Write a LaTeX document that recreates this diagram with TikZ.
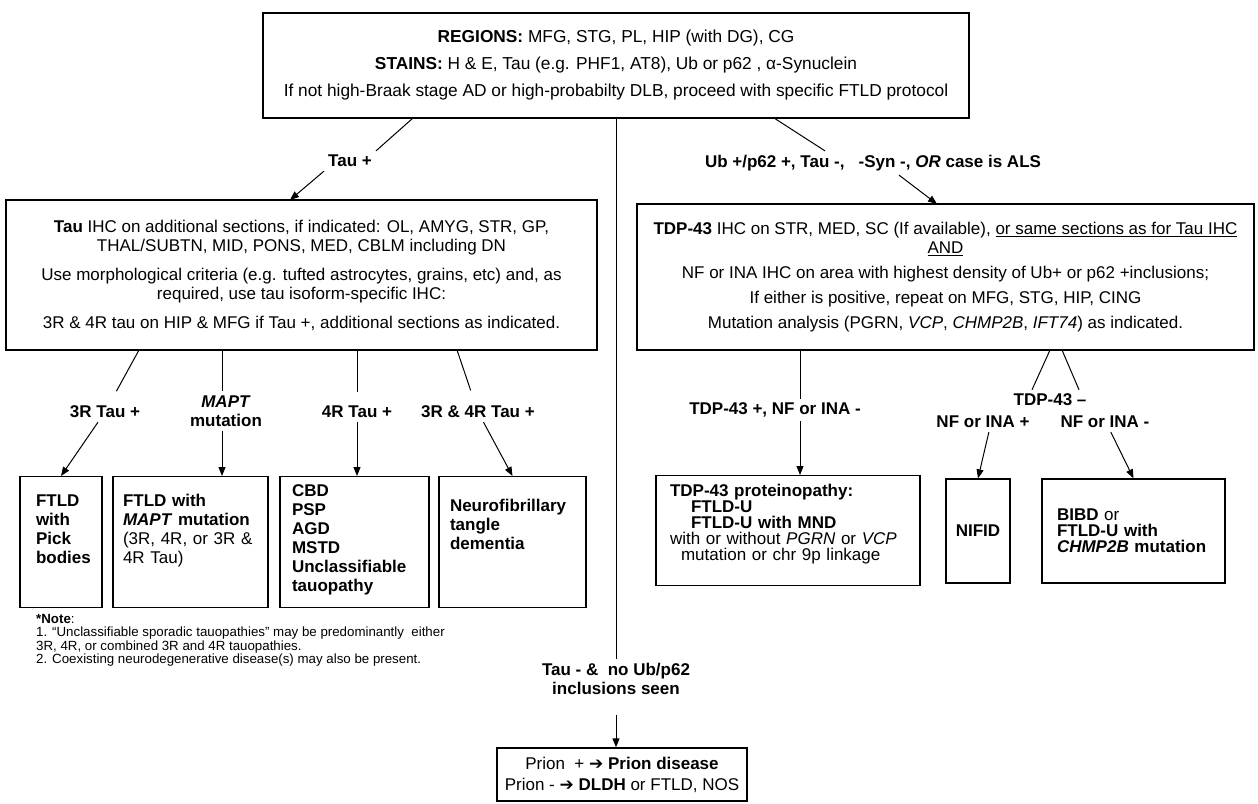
\documentclass[tikz,border=0pt]{standalone}
\usepackage{fontspec}
\setmainfont{Liberation Sans}
\newfontfamily\symfont{DejaVu Sans}
\usetikzlibrary{arrows.meta}
\def\harr{{\symfont\char"2794}}

\begin{document}
\fontsize{17}{19}\selectfont
\begin{tikzpicture}[x=1pt,y=-1pt,
    box/.style={draw,line width=1.3pt,inner sep=0pt},
    lbl/.style={font=\bfseries,inner sep=4pt,align=center},
    ln/.style={line width=1pt},
    arr/.style={line width=1pt,-{Triangle[length=9pt,width=7pt]}}]
\useasboundingbox (0,0) rectangle (1258,803);

\node[box,minimum width=706pt,minimum height=105pt,align=center,font=\fontsize{17.3}{19}\selectfont] (top) at (616,65.5)
  {\textbf{REGIONS:} MFG, STG, PL, HIP (with DG), CG\\[8pt]
   \textbf{STAINS:} H \& E, Tau (e.g. PHF1, AT8), Ub or p62 , α-Synuclein\\[8pt]
   If not high-Braak stage AD or high-probabilty DLB, proceed with specific FTLD protocol};

\node[box,minimum width=591pt,minimum height=150pt,align=center] (tau) at (301.5,275)
  {\textbf{Tau} IHC on additional sections, if indicated: OL, AMYG, STR, GP,\\
   THAL/SUBTN, MID, PONS, MED, CBLM including DN\\[10pt]
   Use morphological criteria (e.g. tufted astrocytes, grains, etc) and, as\\
   required, use tau isoform-specific IHC:\\[10pt]
   3R \& 4R tau on HIP \& MFG if Tau +, additional sections as indicated.};

\node[box,minimum width=617pt,minimum height=146pt,align=center] (rbox) at (945.5,277)
  {\textbf{TDP-43} IHC on STR, MED, SC (If available), \underline{or same sections as for Tau IHC}\\
   \underline{AND}\\[6pt]
   NF or INA IHC on area with highest density of Ub+ or p62 +inclusions;\\[6pt]
   If either is positive, repeat on MFG, STG, HIP, CING\\[6pt]
   Mutation analysis (PGRN, \textit{VCP}, \textit{CHMP2B}, \textit{IFT74}) as indicated.};

\node[lbl] (taup) at (350,161) {Tau +};
\node[lbl] (ubl) at (873,163) {Ub +/p62 +, Tau -,\ \ \ -Syn -, \textit{OR} case is ALS};
\coordinate (t1) at (413,118);
\coordinate (t2) at (290,200);
\coordinate (u1) at (774,118);
\coordinate (u2) at (937,204);
\draw[ln] (t1) -- (taup.north east);
\draw[arr] (taup.south west) -- (t2);
\draw[ln] (u1) -- ([xshift=-48pt]ubl.north);
\draw[arr] ([xshift=26pt]ubl.south) -- (u2);

\node[box,anchor=north,text width=50pt,inner xsep=16pt,text height=30pt,text depth=101pt,align=left,font=\bfseries] (pick) at (61,476)
  {FTLD\\with\\Pick\\bodies};
\node[box,anchor=north,text width=135pt,inner xsep=10pt,text height=30pt,text depth=101pt,align=left,font=\bfseries] (mapt) at (190.5,476)
  {FTLD with\\\textit{MAPT} mutation\\\mdseries (3R, 4R, or 3R \&\\4R Tau)};
\node[box,anchor=north,text width=125pt,inner xsep=12pt,text height=20pt,text depth=111pt,align=left,font=\bfseries] (cbd) at (354.5,476)
  {CBD\\PSP\\AGD\\MSTD\\Unclassifiable\\tauopathy};
\node[box,anchor=north,text width=125pt,inner xsep=11pt,text height=35pt,text depth=96pt,align=left,font=\bfseries] (nft) at (512.5,476)
  {Neurofibrillary\\tangle\\dementia};

\node[lbl] (l3r) at (105,412) {3R Tau +};
\node[lbl] (lmapt) at (226,411) {\textit{MAPT}\\mutation};
\node[lbl] (l4r) at (357,412) {4R Tau +};
\node[lbl] (l34r) at (478,412) {3R \& 4R Tau +};
\coordinate (b1) at (139,350);
\coordinate (b2) at (222,350);
\coordinate (b4) at (457,350);
\draw[ln,shorten >=12pt] (b1) -- (l3r);
\draw[arr] (l3r) -- (pick.north);
\draw[ln] (b2) -- (b2 |- lmapt.north);
\draw[arr] (b2 |- lmapt.south) -- (b2 |- mapt.north);
\draw[ln,shorten >=10pt] (tau.south -| l4r) -- (l4r);
\draw[arr] (l4r.south) -- (l4r.south |- cbd.north);
\draw[ln,shorten >=12pt] (b4) -- (l34r);
\draw[arr] (l34r) -- (nft.north);

\node[box,anchor=north,text width=236pt,inner xsep=14pt,text height=21pt,text depth=89pt,align=left,font=\fontsize{17}{16}\selectfont] (tdpbox) at (788,475)
  {\textbf{TDP-43 proteinopathy:}\\
   \hspace*{21pt}\textbf{FTLD-U}\\
   \hspace*{21pt}\textbf{FTLD-U with MND}\\
   with or without \textit{PGRN} or \textit{VCP}\\
   \hspace*{11pt}mutation or chr 9p linkage};
\node[box,minimum width=64pt,minimum height=104pt,font=\bfseries] (nifid) at (978,531) {NIFID};
\node[box,minimum height=104pt,text width=153pt,inner xsep=15pt,align=left,font=\fontsize{17}{16}\selectfont] (bibd) at (1133.5,531)
  {\textbf{BIBD} or\\\textbf{FTLD-U with}\\\textbf{\textit{CHMP2B} mutation}};

\node[lbl] (tdpl) at (775,410) {TDP-43 +, NF or INA -};
\node[lbl] (tdpneg) at (1050,400) {TDP-43 --};
\node[lbl] (nfpos) at (983,422) {NF or INA +};
\node[lbl] (nfneg) at (1105,422) {NF or INA -};
\coordinate (r1) at (800,350);
\coordinate (r2) at (1050,350);
\coordinate (r3) at (1062,350);
\draw[ln] (r1) -- (r1 |- tdpl.north);
\draw[arr] (r1 |- tdpl.south) -- (r1 |- tdpbox.north);
\draw[ln] (r2) -- ([xshift=-18pt]tdpneg.north);
\draw[ln] (r3) -- ([xshift=29pt]tdpneg.north);
\draw[arr] (nfpos.-60) -- (nifid.north);
\draw[arr] (nfneg.-60) -- (bibd.north);

\node[anchor=north west,align=left,inner sep=0pt,font=\fontsize{13.3}{13.5}\selectfont] (note) at (36,614)
  {\textbf{*Note}:\\
   1. “Unclassifiable sporadic tauopathies” may be predominantly\ \ either\\
   3R, 4R, or combined 3R and 4R tauopathies.\\
   2. Coexisting neurodegenerative disease(s) may also be present.};

\node[lbl] (nolbl) at (616,679) {Tau - \&\ \ no Ub/p62\\inclusions seen};
\node[box,minimum width=250pt,minimum height=53pt,align=center] (prion) at (622,774.5)
  {Prion\ \ + \harr\ \textbf{Prion disease}\\[2pt]
   Prion - \harr\ \textbf{DLDH} or FTLD, NOS};
\draw[ln] (top.south) -- (nolbl.north);
\draw[arr,shorten <=16pt] (nolbl.south) -- (nolbl.south |- prion.north);
\end{tikzpicture}
\end{document}
